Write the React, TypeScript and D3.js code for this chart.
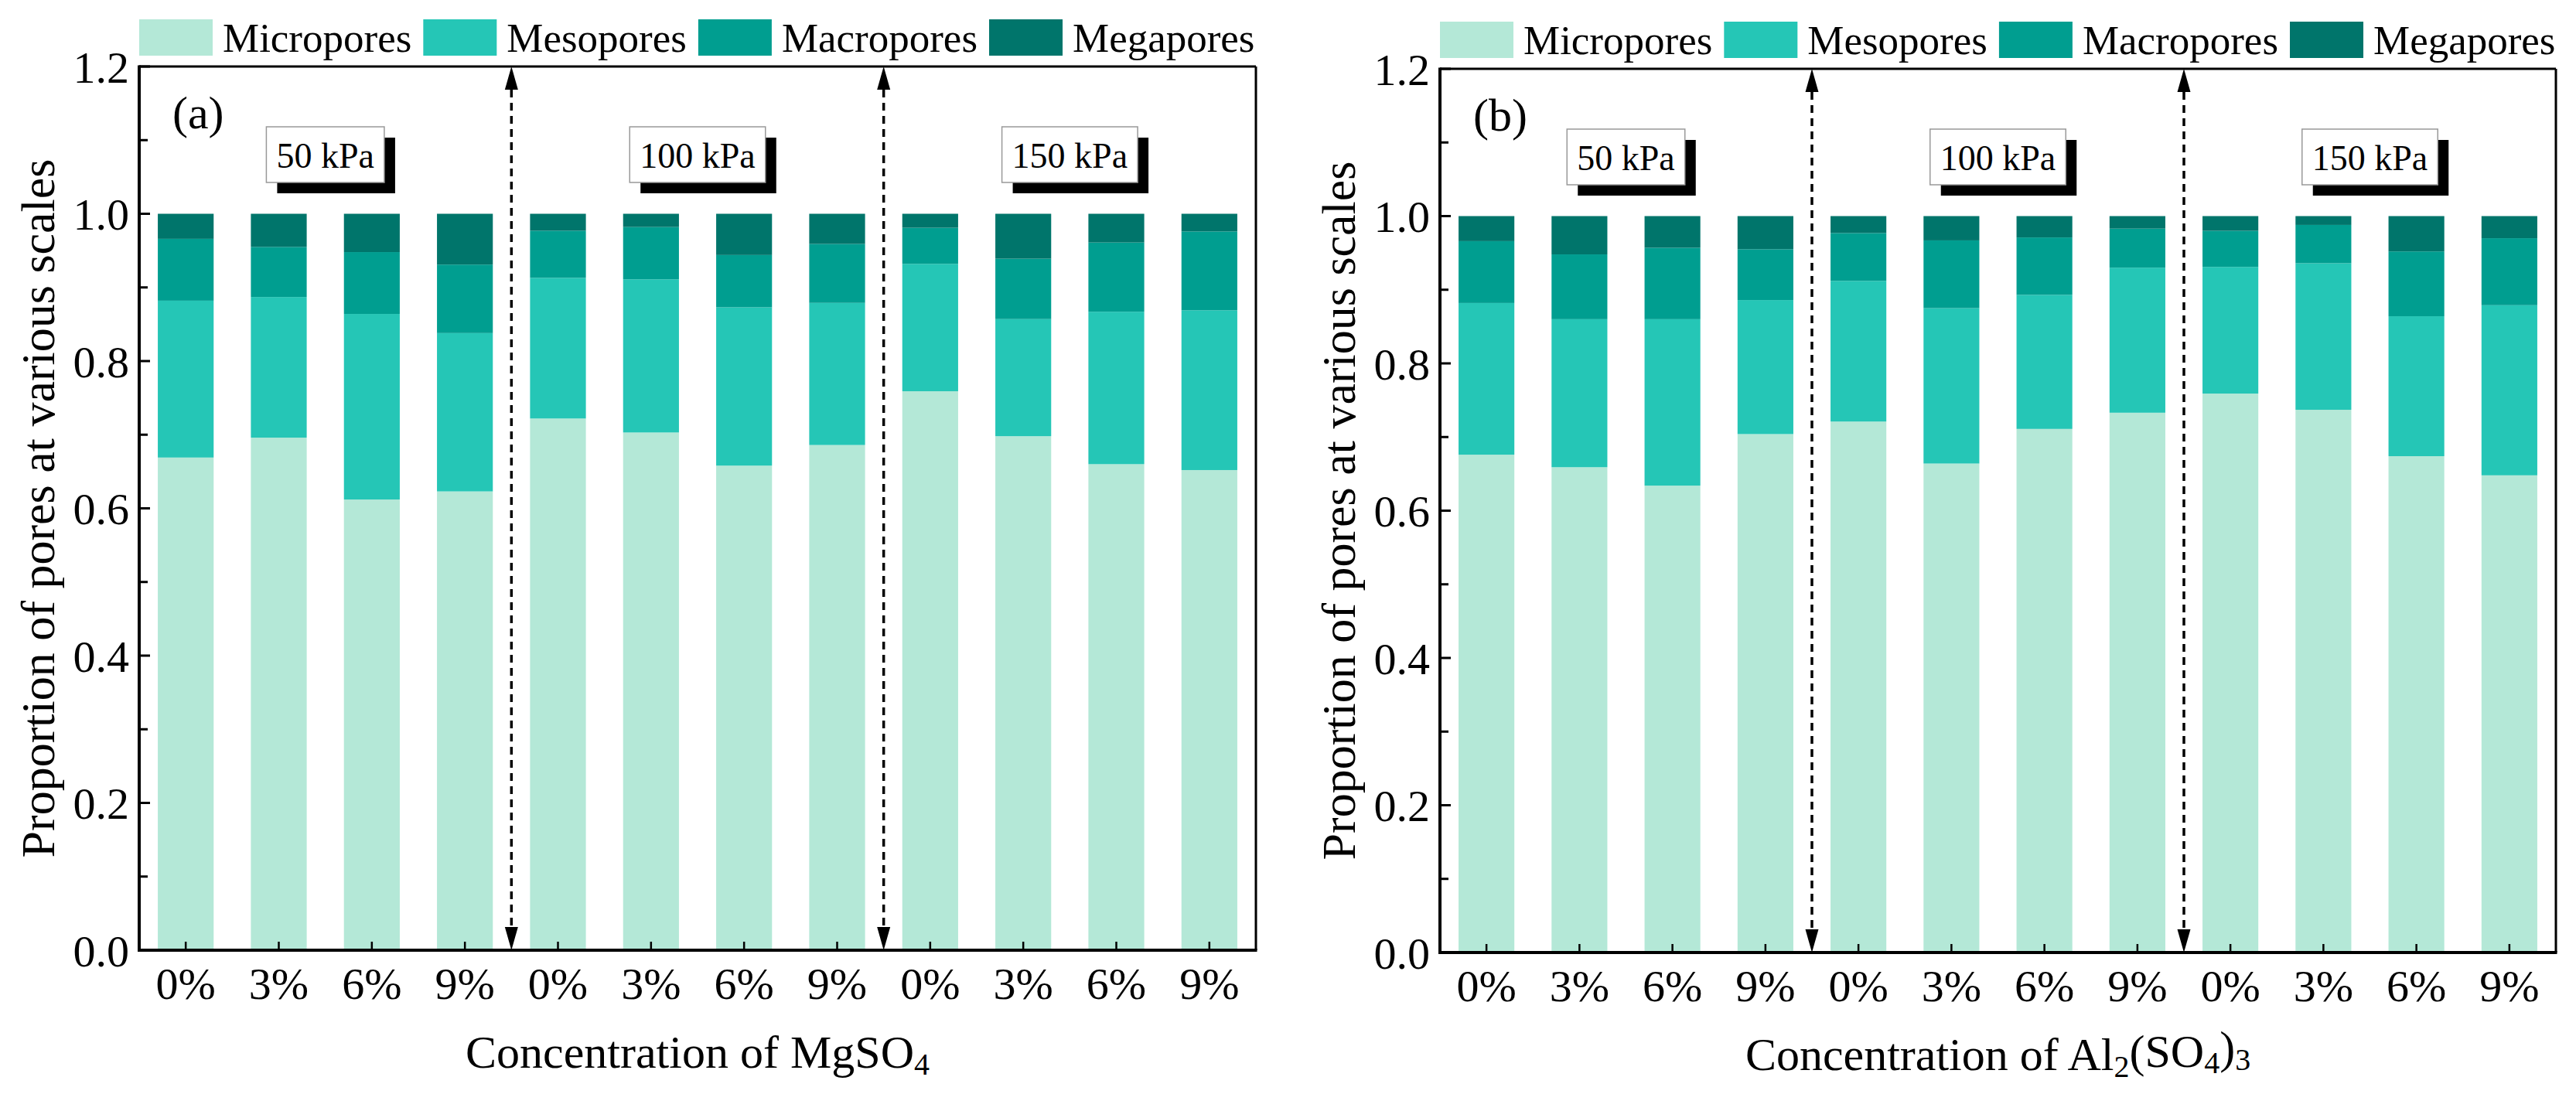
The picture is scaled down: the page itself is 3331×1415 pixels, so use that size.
import React from "react";
import * as d3 from "d3";

// categories
const concentrations = ["0%", "3%", "6%", "9%"];
const pressures = ["50 kPa", "100 kPa", "150 kPa"];
const poreKeys = ["Micropores", "Mesopores", "Macropores", "Megapores"];
const poreColors = ["#b4e8d7", "#25c6b6", "#009e90", "#00756b"];

// panel (a) - MgSO4, 12 bars (3 pressures x 4 concentrations)
const microA = [0.669, 0.696, 0.612, 0.623, 0.722, 0.703, 0.658, 0.686, 0.759, 0.698, 0.660, 0.652];
const mesoA = [0.213, 0.191, 0.252, 0.215, 0.191, 0.208, 0.215, 0.193, 0.173, 0.159, 0.207, 0.217];
const macroA = [0.084, 0.068, 0.084, 0.093, 0.064, 0.071, 0.071, 0.080, 0.049, 0.082, 0.094, 0.107];
const megaA = [0.034, 0.045, 0.052, 0.069, 0.023, 0.018, 0.056, 0.041, 0.019, 0.061, 0.039, 0.024];

// panel (b) - Al2(SO4)3
const microB = [0.676, 0.659, 0.634, 0.704, 0.721, 0.664, 0.711, 0.733, 0.759, 0.737, 0.674, 0.648];
const mesoB = [0.206, 0.201, 0.226, 0.182, 0.191, 0.211, 0.182, 0.197, 0.172, 0.199, 0.190, 0.231];
const macroB = [0.084, 0.088, 0.097, 0.069, 0.065, 0.092, 0.078, 0.053, 0.049, 0.052, 0.088, 0.091];
const megaB = [0.034, 0.052, 0.043, 0.045, 0.023, 0.033, 0.029, 0.017, 0.020, 0.012, 0.048, 0.030];

const yMajorTicks = [0, 0.2, 0.4, 0.6, 0.8, 1.0, 1.2];
const yMinorTicks = [0.1, 0.3, 0.5, 0.7, 0.9, 1.1];

const FONT = '"Liberation Serif", "Times New Roman", serif';

const canvas = typeof document !== "undefined" ? document.createElement("canvas") : null;
const textW = (s: string, size: number) => {
    const ctx = canvas!.getContext("2d")!;
    ctx.font = `${size}px "Liberation Serif"`;
    return ctx.measureText(s).width;
};

interface Part { t: string; sub?: boolean }

interface PanelProps {
    label: string
    left: number
    right: number
    top: number
    bottom: number
    series: number[][]
    title: Part[]
}

const Panel: React.FC<PanelProps> = ({label, left, right, top, bottom, series, title}) => {
    const n = concentrations.length * pressures.length;
    const x = d3.scaleBand<number>().domain(d3.range(n)).range([left, right])
        .paddingInner(0.4).paddingOuter(0.2);
    const y = d3.scaleLinear().domain([0, 1.2]).range([bottom, top]);
    const bw = x.bandwidth();

    const rows = d3.range(n).map(i => {
        const r: any = {i};
        poreKeys.forEach((k, j) => r[k] = series[j][i]);
        return r;
    });
    const stacked = d3.stack<any>().keys(poreKeys)(rows);

    // legend positions
    const legendFont = 53;
    let lx = left;
    const legend = poreKeys.map((k, j) => {
        const item = {k, j, x: lx};
        lx += 95 + 13 + textW(k, legendFont) + 15;
        return item;
    });

    const cx = (i: number) => (x(i) as number) + bw / 2;
    const dividers = d3.range(1, pressures.length).map(g => (cx(g * 4 - 1) + cx(g * 4)) / 2);
    const boxFont = 46;

    const headLen = 30, headW = 8.5;

    return <g>
        {/* bars */}
        {stacked.map((s, j) => <g key={s.key} fill={poreColors[j]}>
            {s.map((d, i) => <rect key={i} x={x(i)} width={bw} y={y(d[1])} height={y(d[0]) - y(d[1])}/>)}
        </g>)}

        {/* frame */}
        <line x1={left} x2={right} y1={top} y2={top} stroke="#000" strokeWidth={3}/>
        <line x1={right} x2={right} y1={top} y2={bottom} stroke="#000" strokeWidth={3}/>
        <line x1={left} x2={left} y1={top - 1.5} y2={bottom + 2} stroke="#000" strokeWidth={4}/>
        <line x1={left - 2} x2={right + 1.5} y1={bottom} y2={bottom} stroke="#000" strokeWidth={4}/>

        {/* y ticks */}
        {yMajorTicks.map(t => <g key={t}>
            <line x1={left} x2={left + 14} y1={y(t)} y2={y(t)} stroke="#000" strokeWidth={3}/>
            <text x={left - 13} y={y(t)} dy="0.36em" textAnchor="end" fontSize={58}
                  fontFamily={FONT}>{d3.format(".1f")(t)}</text>
        </g>)}
        {yMinorTicks.map(t => <line key={t} x1={left} x2={left + 11} y1={y(t)} y2={y(t)}
                                    stroke="#000" strokeWidth={3}/>)}

        {/* x ticks + labels */}
        {d3.range(n).map(i => <g key={i}>
            <line x1={cx(i)} x2={cx(i)} y1={bottom} y2={bottom - 11} stroke="#000" strokeWidth={2.5}/>
            <text x={cx(i)} y={bottom + 63} textAnchor="middle" fontSize={58}
                  fontFamily={FONT}>{concentrations[i % 4]}</text>
        </g>)}

        {/* dashed double arrows */}
        {dividers.map((xd, k) => <g key={k}>
            <line x1={xd} x2={xd} y1={top + headLen} y2={bottom - headLen} stroke="#000"
                  strokeWidth={3.5} strokeDasharray="10 7"/>
            <path d={`M${xd},${top}L${xd - headW},${top + headLen}L${xd + headW},${top + headLen}Z`} fill="#000"/>
            <path d={`M${xd},${bottom}L${xd - headW},${bottom - headLen}L${xd + headW},${bottom - headLen}Z`}
                  fill="#000"/>
        </g>)}

        {/* pressure boxes */}
        {pressures.map((p, g) => {
            const gc = (cx(g * 4 + 1) + cx(g * 4 + 2)) / 2;
            const w = textW(p, boxFont) + 26;
            const bx = gc - w / 2, by = top + 78, bh = 72;
            return <g key={p}>
                <rect x={bx + 14} y={by + 14} width={w} height={bh} fill="#000"/>
                <rect x={bx} y={by} width={w} height={bh} fill="#fff" stroke="#999" strokeWidth={1.5}/>
                <text x={gc} y={by + 53} textAnchor="middle" fontSize={boxFont} fontFamily={FONT}>{p}</text>
            </g>;
        })}

        {/* panel label */}
        <text x={left + 43} y={top + 80} fontSize={60} fontFamily={FONT}>{label}</text>

        {/* legend */}
        {legend.map(l => <g key={l.k}>
            <rect x={l.x} y={top - 61} width={95} height={47} fill={poreColors[l.j]}/>
            <text x={l.x + 108} y={top - 19} fontSize={legendFont} fontFamily={FONT}>{l.k}</text>
        </g>)}

        {/* axis titles */}
        <text transform={`translate(${left - 110},${(top + bottom) / 2}) rotate(-90)`} textAnchor="middle"
              fontSize={62} fontFamily={FONT}>Proportion of pores at various scales</text>
        <text x={(left + right) / 2} y={bottom + 152} textAnchor="middle" fontSize={60} fontFamily={FONT}>
            {title.map((p, k) => {
                const prevSub = k > 0 && title[k - 1].sub;
                const dy = p.sub ? "0.22em" : prevSub ? "-0.22em" : undefined;
                return <tspan key={k} dy={dy} fontSize={p.sub ? 40 : undefined}>{p.t}</tspan>;
            })}
        </text>
    </g>;
};

const App: React.FC = () => {
    return <svg width={3331} height={1415} style={{position: "absolute", left: 0, top: 0, background: "#fff"}}>
        <rect width={3331} height={1415} fill="#fff"/>
        <Panel label="(a)" left={180} right={1624} top={86} bottom={1229}
               series={[microA, mesoA, macroA, megaA]}
               title={[{t: "Concentration of MgSO"}, {t: "4", sub: true}]}/>
        <Panel label="(b)" left={1862} right={3305} top={89} bottom={1232}
               series={[microB, mesoB, macroB, megaB]}
               title={[{t: "Concentration of Al"}, {t: "2", sub: true}, {t: "(SO"}, {t: "4", sub: true},
                   {t: ")"}, {t: "3", sub: true}]}/>
    </svg>;
};

export default App;
